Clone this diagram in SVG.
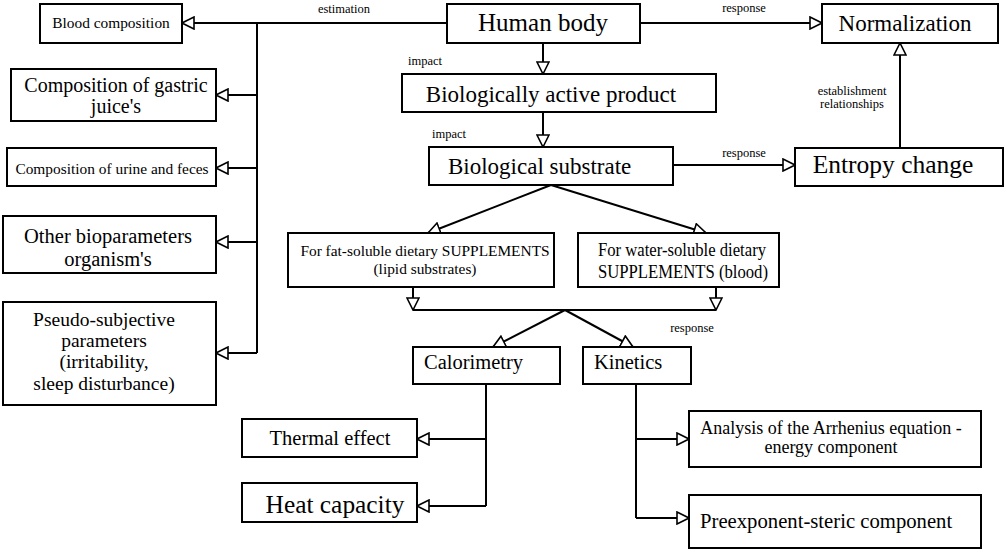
<svg xmlns="http://www.w3.org/2000/svg" width="1005" height="549" viewBox="0 0 1005 549">
<style>
.box{fill:#fff;stroke:#000;stroke-width:2}
.ln{fill:none;stroke:#000;stroke-width:2}
.arr{marker-end:url(#ah)}
text{font-family:"Liberation Serif","Times New Roman",serif;fill:#000}
.c{text-anchor:middle}
.lbl{font-size:12.5px}
</style>
<defs>
<marker id="ah" markerUnits="userSpaceOnUse" markerWidth="14" markerHeight="14" viewBox="-1 -1 14 14" refX="12" refY="6" orient="auto">
<path d="M0,0 L12,6 L0,12 Z" fill="#fff" stroke="#000" stroke-width="1.6"/>
</marker>
</defs>
<rect width="1005" height="549" fill="#fff"/>
<g id="connectors">
<path class="ln" d="M447,23 H257 V353"/>
<path class="ln arr" d="M257,23 H182"/>
<path class="ln arr" d="M257,95 H216"/>
<path class="ln arr" d="M257,168 H216"/>
<path class="ln arr" d="M257,242 H216"/>
<path class="ln arr" d="M257,353 H216"/>
<path class="ln arr" d="M640,23 H822"/>
<path class="ln arr" d="M543,43 V74"/>
<path class="ln arr" d="M543,112 V147"/>
<path class="ln arr" d="M673,165 H795"/>
<path class="ln arr" d="M900,148 V43"/>
<path class="ln arr" d="M551,185 L428,233"/>
<path class="ln arr" d="M551,185 L706,233"/>
<path class="ln arr" d="M413,287 V310"/>
<path class="ln arr" d="M716,287 V310"/>
<path class="ln" d="M413,310 H716"/>
<path class="ln arr" d="M565,310 L493,347"/>
<path class="ln arr" d="M565,310 L633,347"/>
<path class="ln" d="M486,384 V506"/>
<path class="ln arr" d="M486,439 H417"/>
<path class="ln arr" d="M486,506 H417"/>
<path class="ln" d="M636,384 V518"/>
<path class="ln arr" d="M636,439 H689"/>
<path class="ln arr" d="M636,518 H689"/>
<text class="lbl c" x="344" y="13">estimation</text>
<text class="lbl c" x="744" y="12">response</text>
<text class="lbl" x="408" y="65">impact</text>
<text class="lbl" x="432" y="138">impact</text>
<text class="lbl c" x="744" y="157">response</text>
<text class="lbl c" x="852" y="95">establishment</text>
<text class="lbl c" x="852" y="108">relationships</text>
<text class="lbl c" x="692" y="332">response</text>
</g>
<g id="blood"><rect class="box" x="40" y="4" width="142" height="39"/><text class="c" x="111" y="28" font-size="15.4">Blood composition</text></g>
<g id="human"><rect class="box" x="447" y="4" width="193" height="39"/><text class="c" x="543" y="31" font-size="25">Human body</text></g>
<g id="norm"><rect class="box" x="822" y="4" width="176" height="39"/><text class="c" x="905" y="31" font-size="23">Normalization</text></g>
<g id="gastric"><rect class="box" x="11" y="69" width="205" height="52"/><text class="c" x="116" y="92" font-size="20">Composition of gastric</text><text class="c" x="116" y="113" font-size="20">juice's</text></g>
<g id="bap"><rect class="box" x="402" y="74" width="314" height="38"/><text class="c" x="551" y="102" font-size="23">Biologically active product</text></g>
<g id="urine"><rect class="box" x="7" y="148" width="209" height="38"/><text class="c" x="112" y="174" font-size="15.4">Composition of urine and feces</text></g>
<g id="bs"><rect class="box" x="429" y="147" width="244" height="38"/><text x="448" y="174" font-size="23">Biological substrate</text></g>
<g id="entropy"><rect class="box" x="795" y="148" width="208" height="38"/><text class="c" x="893" y="173" font-size="25.5">Entropy change</text></g>
<g id="other"><rect class="box" x="3" y="216" width="213" height="57"/><text class="c" x="108" y="243" font-size="20.5">Other bioparameters</text><text class="c" x="108" y="266" font-size="20.5">organism's</text></g>
<g id="pseudo"><rect class="box" x="3" y="302" width="213" height="103"/><text class="c" x="104" y="326" font-size="19.5">Pseudo-subjective</text><text class="c" x="104" y="347" font-size="19.5">parameters</text><text class="c" x="104" y="368" font-size="19.5">(irritability,</text><text class="c" x="104" y="390" font-size="19.5">sleep disturbance)</text></g>
<g id="fat"><rect class="box" x="288" y="233" width="266" height="54"/><text class="c" x="425" y="256" font-size="15.4">For fat-soluble dietary SUPPLEMENTS</text><text class="c" x="425" y="274" font-size="15.4">(lipid substrates)</text></g>
<g id="water"><rect class="box" x="578" y="233" width="201" height="54"/><text x="598" y="256" font-size="19" textLength="168" lengthAdjust="spacingAndGlyphs">For water-soluble dietary</text><text x="598" y="278" font-size="19" textLength="170" lengthAdjust="spacingAndGlyphs">SUPPLEMENTS (blood)</text></g>
<g id="cal"><rect class="box" x="413" y="347" width="147" height="37"/><text x="424" y="369" font-size="20.5">Calorimetry</text></g>
<g id="kin"><rect class="box" x="583" y="347" width="108" height="37"/><text x="594" y="369" font-size="20.5">Kinetics</text></g>
<g id="thermal"><rect class="box" x="242" y="419" width="175" height="38"/><text class="c" x="330" y="445" font-size="20.5">Thermal effect</text></g>
<g id="heat"><rect class="box" x="242" y="483" width="175" height="39"/><text class="c" x="335" y="513" font-size="25.4">Heat capacity</text></g>
<g id="arrh"><rect class="box" x="689" y="411" width="292" height="56"/><text class="c" x="831" y="434" font-size="18">Analysis of the Arrhenius equation -</text><text class="c" x="831" y="453" font-size="18">energy component</text></g>
<g id="pre"><rect class="box" x="689" y="495" width="292" height="53"/><text x="700" y="528" font-size="20.7">Preexponent-steric component</text></g>
</svg>
